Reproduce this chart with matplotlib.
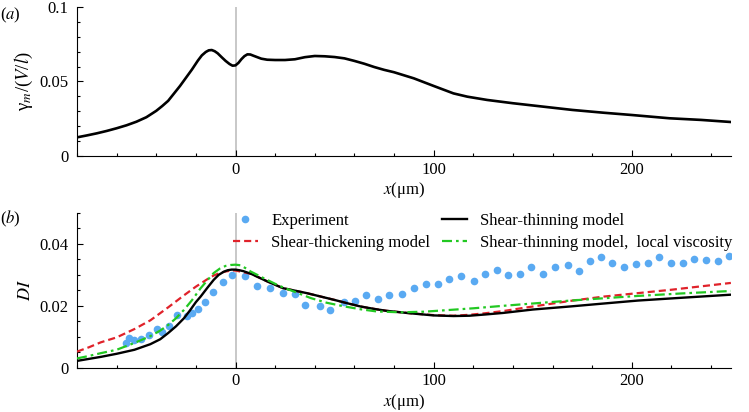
import numpy as np
import matplotlib
matplotlib.use('Agg')
import matplotlib.pyplot as plt
from matplotlib.ticker import MultipleLocator

plt.rcParams['font.family'] = ['Liberation Serif', 'DejaVu Serif']
plt.rcParams['mathtext.fontset'] = 'stix'
plt.rcParams['font.size'] = 12
plt.rcParams['lines.solid_joinstyle'] = 'round'
plt.rcParams['lines.dash_joinstyle'] = 'round'

# (a) shear rate along channel
xa = [-80, -75, -70, -65, -60, -55, -50, -45, -40, -37, -34, -31, -28, -25, -22, -19,
      -17, -15, -13.5, -12, -10.5, -9, -7, -5, -3, -1.5, 0, 1.5, 3, 4.5, 6, 7.5, 9, 11,
      13, 16, 20, 25, 30, 35, 40, 45, 50, 55, 60, 65, 70, 75, 80, 90, 100, 110, 117, 127,
      140, 152, 170, 186, 200, 219, 235, 250]
ya = [0.0125, 0.0138, 0.0152, 0.0168, 0.0186, 0.0206, 0.023, 0.026, 0.0303, 0.0335,
      0.037, 0.042, 0.047, 0.0525, 0.058, 0.064, 0.0675, 0.0698, 0.0709, 0.0711, 0.0703,
      0.0689, 0.0663, 0.0638, 0.0617, 0.0606, 0.0608, 0.0625, 0.065, 0.067, 0.0682,
      0.0681, 0.0673, 0.0663, 0.0653, 0.0646, 0.0644, 0.0644, 0.0649, 0.0663, 0.0671,
      0.0669, 0.0664, 0.0655, 0.0638, 0.0619, 0.0597, 0.0578, 0.0562, 0.0521, 0.047,
      0.042, 0.0398, 0.0376, 0.0354, 0.0336, 0.0309, 0.029, 0.0275, 0.0253, 0.0242,
      0.0228]

# (b) deformation index
x_thin = [-80, -68, -60, -51, -43, -38, -34, -30, -26, -23, -20, -17.6, -14, -11, -8.5,
          -6, -4, -2, 0, 2, 4, 8, 12, 16, 20, 24, 30, 36, 43, 50, 56, 63, 70, 76, 88, 100,
          110, 118, 126, 135, 150, 169, 185, 203, 225, 250]
y_thin = [0.0022, 0.0035, 0.0045, 0.0058, 0.0076, 0.0092, 0.0112, 0.0134, 0.016, 0.0185,
          0.0212, 0.023, 0.026, 0.0284, 0.03, 0.031, 0.0315, 0.0317, 0.0317, 0.0315,
          0.0312, 0.0303, 0.0291, 0.0279, 0.0268, 0.0257, 0.0249, 0.0241, 0.023, 0.0219,
          0.0209, 0.0198, 0.019, 0.0184, 0.0176, 0.0169, 0.0167, 0.0168, 0.0172, 0.0177,
          0.0188, 0.0198, 0.0207, 0.0217, 0.0226, 0.0236]

x_thick = [-80, -74, -68, -60, -51, -43, -34, -26, -20, -17.6, -14, -11, -8, -5, -2, 0, 3,
           8, 12, 16, 20, 24, 30, 36, 43, 50, 56, 63, 70, 76, 88, 100, 110, 118, 126, 135,
           144, 169, 186, 220, 250]
y_thick = [0.0052, 0.0066, 0.0082, 0.0098, 0.0125, 0.0153, 0.0195, 0.0234, 0.0262,
           0.0272, 0.0287, 0.0298, 0.0306, 0.0311, 0.0314, 0.0314, 0.031, 0.0303, 0.0291,
           0.0279, 0.0268, 0.0257, 0.0249, 0.0241, 0.023, 0.0219, 0.0209, 0.0198, 0.019,
           0.0184, 0.0176, 0.017, 0.0168, 0.0171, 0.0176, 0.0183, 0.0192, 0.0216, 0.023,
           0.0252, 0.0274]

x_local = [-80, -74, -68, -60, -51, -43, -38, -34, -30, -26, -22, -17.6, -14, -11, -8, -5,
           -2.5, 0, 2.5, 5, 7.6, 11, 14, 17.5, 21, 25, 30, 38, 46, 55, 63, 71, 83, 95, 102,
           120, 135, 169, 203, 225, 250]
y_local = [0.003, 0.0038, 0.0047, 0.0058, 0.008, 0.0102, 0.012, 0.0138, 0.016, 0.0187,
           0.0218, 0.0257, 0.0284, 0.0306, 0.032, 0.0329, 0.0332, 0.0333, 0.0331, 0.0322,
           0.0311, 0.03, 0.029, 0.0279, 0.0268, 0.0257, 0.0245, 0.0225, 0.021, 0.0198,
           0.0189, 0.0182, 0.0179, 0.0181, 0.0184, 0.0192, 0.02, 0.0217, 0.0232, 0.024,
           0.0248]

x_exp = [-55.5, -53.8, -51.3, -47.9, -43.7, -39.8, -37, -33.6, -29.4, -24.7, -21.8, -18.8,
         -15.6, -11.4, -6.4, -1.7, 4.7, 10.6, 17.6, 23.9, 29.9, 35.3, 42.4, 47.6, 54.6,
         60.2, 65.9, 71.8, 77.7, 84.1, 89.9, 96.3, 102.2, 107.9, 113.8, 120.2, 126.1, 132,
         137.5, 143.4, 149.3, 155.2, 161, 167.6, 173.5, 179, 184.6, 190, 196.2, 202.2,
         208.1, 213.5, 219.7, 225.8, 231.5, 237.4, 243.7, 249.1]
y_exp = [0.0079, 0.0095, 0.0088, 0.0092, 0.0106, 0.0124, 0.0117, 0.0135, 0.0171, 0.0168,
         0.0178, 0.0191, 0.0211, 0.0246, 0.0277, 0.03, 0.0298, 0.0265, 0.0259, 0.024,
         0.0237, 0.0204, 0.0201, 0.0187, 0.0212, 0.0216, 0.0236, 0.0222, 0.0236, 0.0238,
         0.0259, 0.0271, 0.0271, 0.0288, 0.0295, 0.0281, 0.0303, 0.0317, 0.03, 0.0303,
         0.0327, 0.0304, 0.0327, 0.0333, 0.0314, 0.0344, 0.0358, 0.0338, 0.0325, 0.0336,
         0.034, 0.0358, 0.034, 0.034, 0.0352, 0.0347, 0.0344, 0.036]

xticks = [0, 100, 200]
yticks_a = [0, 0.05, 0.1]
ylabels_a = ['0', '0.05', '0.1']
yticks_b = [0, 0.02, 0.04]
ylabels_b = ['0', '0.02', '0.04']


def style_axes(ax, ymax, yminor):
    ax.spines['top'].set_visible(False)
    ax.spines['right'].set_visible(False)
    for s in ['left', 'bottom']:
        ax.spines[s].set_linewidth(0.8)
    ax.set_xlim(-80, 250)
    ax.set_ylim(0, ymax)
    ax.set_xticks(xticks)
    ax.xaxis.set_minor_locator(MultipleLocator(20))
    ax.yaxis.set_minor_locator(MultipleLocator(yminor))
    ax.tick_params(which='both', direction='in', width=0.8)
    ax.tick_params(which='major', length=4)
    ax.tick_params(which='minor', length=2.5)
    ax.tick_params(axis='x', pad=4)
    ax.tick_params(axis='y', pad=6)
    ax.axvline(0, color='#c8c8c8', lw=1.4, zorder=0)
    ax.set_xlabel(r'$x$(μm)', labelpad=2)


fig = plt.figure(figsize=(7.49, 4.12), dpi=100)

ax1 = fig.add_axes([0.1028, 0.6214, 0.873, 0.3617])
ax1.plot(xa, ya, color='black', lw=1.9)
style_axes(ax1, 0.1, 0.01)
ax1.set_yticks(yticks_a)
ax1.set_yticklabels(ylabels_a)
ax1.set_ylabel(r'γ$_m$/($V$/$l$)', fontsize=13.5, labelpad=3)

ax2 = fig.add_axes([0.1028, 0.1075, 0.873, 0.3755])
h_exp, = ax2.plot(x_exp, y_exp, 'o', color='#5aaaf2', ms=5.5, mec='none', zorder=2,
                  label='Experiment')
h_thick, = ax2.plot(x_thick, y_thick, color='#e0222a', lw=1.6, dashes=(3.2, 1.8),
                    zorder=3, label='Shear-thickening model')
h_thin, = ax2.plot(x_thin, y_thin, color='black', lw=1.7, zorder=4,
                   label='Shear-thinning model')
h_local, = ax2.plot(x_local, y_local, color='#22c822', lw=1.6, dashes=(4.5, 1.8, 1.2, 1.8),
                    zorder=5, label='Shear-thinning model,  local viscosity')
style_axes(ax2, 0.05, 0.005)
ax2.set_yticks(yticks_b)
ax2.set_yticklabels(ylabels_b)
ax2.set_ylabel(r'$DI$', fontsize=13, labelpad=4)

ax2.legend(handles=[h_exp, h_thick, h_thin, h_local], ncol=2, frameon=False,
           loc='upper left', bbox_to_anchor=(0.2385, 1.0), borderaxespad=0,
           borderpad=0, handlelength=1.5, handletextpad=0.8, columnspacing=0.7,
           labelspacing=0.35, numpoints=1)

fig.text(0.0, 1 - 15 / 412, r'($a$)', va='center', ha='left')
fig.text(0.0, 1 - 219 / 412, r'($b$)', va='center', ha='left')

fig.savefig('out.png', dpi=100)
